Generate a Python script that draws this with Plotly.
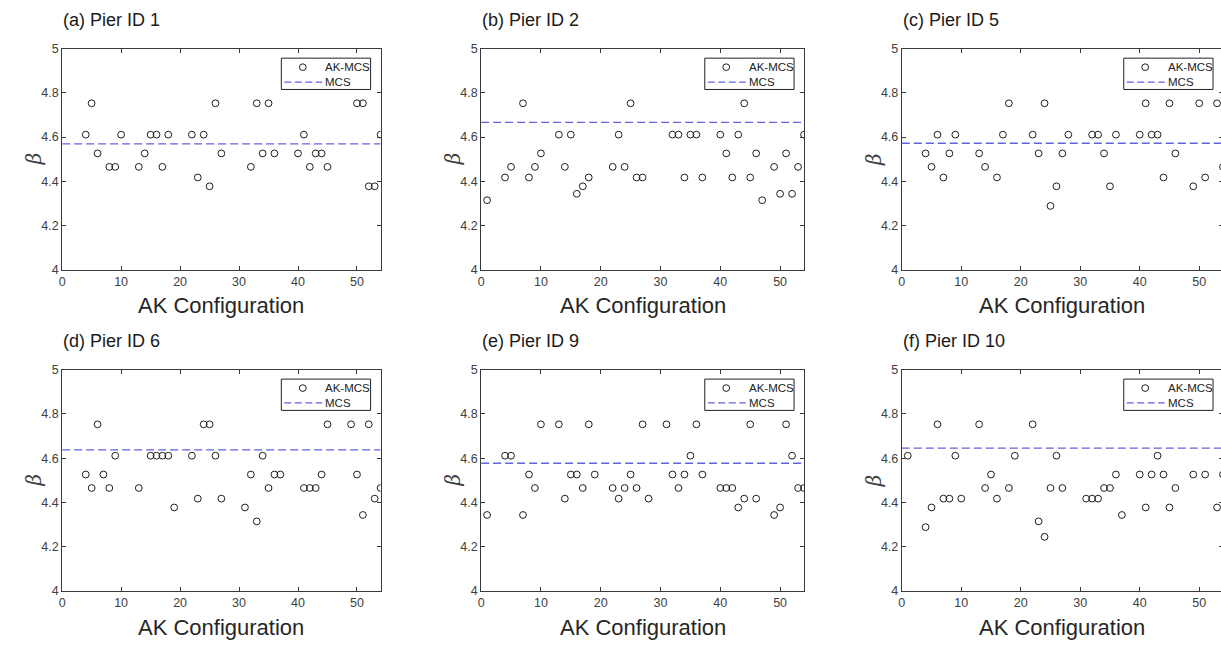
import plotly.graph_objects as go

# ---------------- data ----------------
panel_titles = ["(a) Pier ID 1", "(b) Pier ID 2", "(c) Pier ID 5",
                "(d) Pier ID 6", "(e) Pier ID 9", "(f) Pier ID 10"]
legend_names = ["AK-MCS", "MCS"]

a_x = [4, 5, 6, 8, 9, 10, 13, 14, 15, 16, 17, 18, 22, 23, 24, 25, 26, 27, 32, 33, 34, 35, 36,
       40, 41, 42, 43, 44, 45, 50, 51, 52, 53, 54]
a_beta = [4.611, 4.753, 4.526, 4.465, 4.465, 4.611, 4.465, 4.526, 4.611, 4.611, 4.465, 4.611,
          4.611, 4.417, 4.611, 4.377, 4.753, 4.526, 4.465, 4.753, 4.526, 4.753, 4.526,
          4.526, 4.611, 4.465, 4.526, 4.526, 4.465, 4.753, 4.753, 4.377, 4.377, 4.611]

b_x = [1, 4, 5, 7, 8, 9, 10, 13, 14, 15, 16, 17, 18, 22, 23, 24, 25, 26, 27, 32, 33, 34, 35, 36,
       37, 40, 41, 42, 43, 44, 45, 46, 47, 49, 50, 51, 52, 53, 54]
b_beta = [4.314, 4.417, 4.465, 4.753, 4.417, 4.465, 4.526, 4.611, 4.465, 4.611, 4.343, 4.377,
          4.417, 4.465, 4.611, 4.465, 4.753, 4.417, 4.417, 4.611, 4.611, 4.417, 4.611, 4.611,
          4.417, 4.611, 4.526, 4.417, 4.611, 4.753, 4.417, 4.526, 4.314, 4.465, 4.343, 4.526,
          4.343, 4.465, 4.611]

c_x = [4, 5, 6, 7, 8, 9, 13, 14, 16, 17, 18, 22, 23, 24, 25, 26, 27, 28, 32, 33, 34, 35, 36,
       40, 41, 42, 43, 44, 45, 46, 49, 50, 51, 53, 54]
c_beta = [4.526, 4.465, 4.611, 4.417, 4.526, 4.611, 4.526, 4.465, 4.417, 4.611, 4.753, 4.611,
          4.526, 4.753, 4.288, 4.377, 4.526, 4.611, 4.611, 4.611, 4.526, 4.377, 4.611,
          4.611, 4.753, 4.611, 4.611, 4.417, 4.753, 4.526, 4.377, 4.753, 4.417, 4.753, 4.465]

d_x = [4, 5, 6, 7, 8, 9, 13, 15, 16, 17, 18, 19, 22, 23, 24, 25, 26, 27, 31, 32, 33, 34, 35, 36,
       37, 41, 42, 43, 44, 45, 49, 50, 51, 52, 53, 54]
d_beta = [4.526, 4.465, 4.753, 4.526, 4.465, 4.611, 4.465, 4.611, 4.611, 4.611, 4.611, 4.377,
          4.611, 4.417, 4.753, 4.753, 4.611, 4.417, 4.377, 4.526, 4.314, 4.611, 4.465, 4.526,
          4.526, 4.465, 4.465, 4.465, 4.526, 4.753, 4.753, 4.526, 4.343, 4.753, 4.417, 4.465]

e_x = [1, 4, 5, 7, 8, 9, 10, 13, 14, 15, 16, 17, 18, 19, 22, 23, 24, 25, 26, 27, 28, 31, 32, 33,
       34, 35, 36, 37, 40, 41, 42, 43, 44, 45, 46, 49, 50, 51, 52, 53, 54]
e_beta = [4.343, 4.611, 4.611, 4.343, 4.526, 4.465, 4.753, 4.753, 4.417, 4.526, 4.526, 4.465,
          4.753, 4.526, 4.465, 4.417, 4.465, 4.526, 4.465, 4.753, 4.417, 4.753, 4.526, 4.465,
          4.526, 4.611, 4.753, 4.526, 4.465, 4.465, 4.465, 4.377, 4.417, 4.753, 4.417, 4.343,
          4.377, 4.753, 4.611, 4.465, 4.465]

f_x = [1, 4, 5, 6, 7, 8, 9, 10, 13, 14, 15, 16, 18, 19, 22, 23, 24, 25, 26, 27, 31, 32, 33, 34,
       35, 36, 37, 40, 41, 42, 43, 44, 45, 46, 49, 51, 53, 54]
f_beta = [4.611, 4.288, 4.377, 4.753, 4.417, 4.417, 4.611, 4.417, 4.753, 4.465, 4.526, 4.417,
          4.465, 4.611, 4.753, 4.314, 4.244, 4.465, 4.611, 4.465, 4.417, 4.417, 4.417, 4.465,
          4.465, 4.526, 4.343, 4.526, 4.377, 4.526, 4.611, 4.526, 4.377, 4.465, 4.526, 4.526,
          4.377, 4.526]

mcs_beta = [4.569, 4.667, 4.572, 4.637, 4.577, 4.645]
config_span = [0, 54]

x_ticks = [0, 10, 20, 30, 40, 50]
y_ticks = [4, 4.2, 4.4, 4.6, 4.8, 5]
y_ticklabels = ["4", "4.2", "4.4", "4.6", "4.8", "5"]

xs = [a_x, b_x, c_x, d_x, e_x, f_x]
ys = [a_beta, b_beta, c_beta, d_beta, e_beta, f_beta]

# ---------------- layout geometry (pixels) ----------------
W, H = 1224, 649
col_l = [59.3, 479.3, 901.0]
col_r = [378.5, 803.0, 1223.0]
row_t = [42.7, 370.7]
row_b = [268.3, 596.7]

FONT = "Liberation Sans, Arial, sans-serif"
AX_COL = "#3a3a3a"
TXT_COL = "#333333"
MCS_COL = "#6262e0"
MK_COL = "#1e1e1e"


def px(xp):
    return xp / W


def py(yp):
    return 1 - yp / H


fig = go.Figure()
layout = dict(
    width=W, height=H, margin=dict(l=0, r=0, t=0, b=0),
    paper_bgcolor="white", plot_bgcolor="white",
    font=dict(family=FONT, color=TXT_COL),
    showlegend=False,
)
annotations = []
shapes = []

for i in range(6):
    r, c = divmod(i, 3)
    n = "" if i == 0 else str(i + 1)
    xa, ya = "x" + n, "y" + n
    L, R, T, B = col_l[c], col_r[c], row_t[r], row_b[r]

    fig.add_trace(go.Scatter(
        x=xs[i], y=ys[i], mode="markers", name=legend_names[0],
        marker=dict(symbol="circle-open", size=6.8, color=MK_COL, line=dict(width=1)),
        xaxis=xa, yaxis=ya, cliponaxis=True,
    ))
    fig.add_trace(go.Scatter(
        x=config_span, y=[mcs_beta[i], mcs_beta[i]], mode="lines", name=legend_names[1],
        line=dict(color=MCS_COL, width=1.3, dash="8px,4px"),
        xaxis=xa, yaxis=ya,
    ))

    axcommon = dict(
        showline=True, linecolor=AX_COL, linewidth=1, mirror="ticks",
        ticks="inside", ticklen=4, tickcolor=AX_COL, tickwidth=1,
        showgrid=False, zeroline=False,
        tickfont=dict(family=FONT, size=12.5, color="#404040"),
    )
    layout["xaxis" + n] = dict(
        domain=[px(L), px(R)], anchor=ya, range=config_span,
        tickvals=x_ticks, **axcommon,
    )
    layout["yaxis" + n] = dict(
        domain=[py(B), py(T)], anchor=xa, range=[y_ticks[0], y_ticks[-1]],
        tickvals=y_ticks, ticktext=y_ticklabels, **axcommon,
    )

    # ----- legend box (drawn like the MATLAB legend) -----
    bx0, bx1 = R - 99.5, R - 10
    by0, by1 = T + 9.6, T + 41.6
    row1, row2 = T + 18.8, T + 34.0
    shapes.append(dict(type="rect", xref="paper", yref="paper",
                       x0=px(bx0), x1=px(bx1), y0=py(by1), y1=py(by0),
                       line=dict(color="#222222", width=1), fillcolor="white", layer="above"))
    mcx = R - 78
    shapes.append(dict(type="circle", xref="paper", yref="paper",
                       x0=px(mcx - 3.4), x1=px(mcx + 3.4), y0=py(row1 + 3.4), y1=py(row1 - 3.4),
                       line=dict(color=MK_COL, width=1), fillcolor="rgba(0,0,0,0)", layer="above"))
    shapes.append(dict(type="line", xref="paper", yref="paper",
                       x0=px(R - 96.5), x1=px(R - 58.5), y0=py(row2), y1=py(row2),
                       line=dict(color=MCS_COL, width=1.3, dash="7px,3.5px"), layer="above"))
    annotations.append(dict(
        text=legend_names[0], x=px(R - 57.5), y=py(row1), xref="paper", yref="paper",
        xanchor="left", yanchor="middle", showarrow=False,
        font=dict(family=FONT, size=11.5, color="#222222"),
    ))
    annotations.append(dict(
        text=legend_names[1], x=px(R - 57.5), y=py(row2), xref="paper", yref="paper",
        xanchor="left", yanchor="middle", showarrow=False,
        font=dict(family=FONT, size=11.5, color="#222222"),
    ))

    # panel title
    annotations.append(dict(
        text=panel_titles[i], x=px(L - 1), y=py(T - 29),
        xref="paper", yref="paper", xanchor="left", yanchor="middle",
        showarrow=False, font=dict(family=FONT, size=18, color="#1a1a1a"),
    ))
    # x title
    annotations.append(dict(
        text="AK Configuration", x=px((L + R) / 2), y=py(B + 37),
        xref="paper", yref="paper", xanchor="center", yanchor="middle",
        showarrow=False, font=dict(family=FONT, size=22, color="#262626"),
    ))
    # y title
    annotations.append(dict(
        text="<i>β</i>", x=px(L - 28), y=py((T + B) / 2),
        xref="paper", yref="paper", xanchor="center", yanchor="middle",
        textangle=-90, showarrow=False,
        font=dict(family="DejaVu Serif, serif", size=20, color="#404040"),
    ))

layout["annotations"] = annotations
layout["shapes"] = shapes
fig.update_layout(**layout)

fig.write_html(
    "out.html",
    config={"displayModeBar": False},
    post_script="document.body.style.margin='0';document.body.style.overflow='hidden';",
)
